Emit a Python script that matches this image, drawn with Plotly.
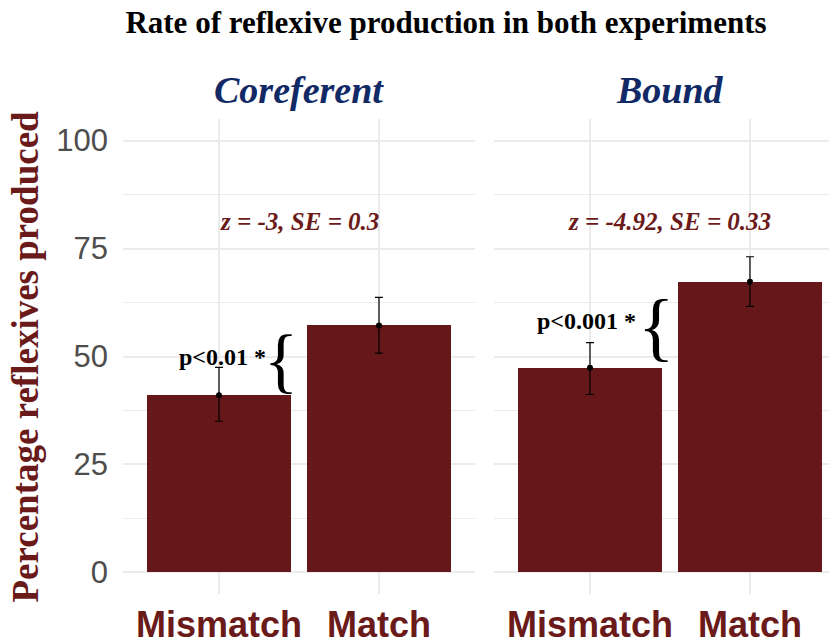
"""Reflexive production rate by condition, two experiments."""

import plotly.graph_objects as go

conditions = ["Mismatch", "Match"]
panels = ["Coreferent", "Bound"]

coref_rate = [41.0, 57.2]
coref_err_up = [6.5, 6.5]
coref_err_down = [6.0, 6.4]

bound_rate = [47.4, 67.3]
bound_err_up = [5.8, 5.8]
bound_err_down = [6.2, 5.7]

stat_labels = ["z = -3, SE = 0.3", "z = -4.92, SE = 0.33"]
p_labels = ["p<0.01 *", "p<0.001 *"]

BAR = "#661719"
RED_TEXT = "#6b1a1a"
NAVY = "#112a66"
GRID = "#ebebeb"
SERIF = "Liberation Serif"
SANS = "Liberation Sans"

x_pos = [1, 2]

fig = go.Figure()
series = [
    (coref_rate, coref_err_up, coref_err_down, "x", "y"),
    (bound_rate, bound_err_up, bound_err_down, "x2", "y2"),
]
for rate, up, down, xa, ya in series:
    fig.add_trace(
        go.Bar(
            x=x_pos,
            y=rate,
            width=0.9,
            marker={"color": BAR, "line": {"width": 0}},
            xaxis=xa,
            yaxis=ya,
            showlegend=False,
        )
    )
    fig.add_trace(
        go.Scatter(
            x=x_pos,
            y=rate,
            mode="markers",
            marker={"color": "black", "size": 6},
            error_y={
                "type": "data",
                "array": up,
                "arrayminus": down,
                "color": "black",
                "thickness": 1.2,
                "width": 4,
            },
            xaxis=xa,
            yaxis=ya,
            showlegend=False,
        )
    )

xaxis_common = dict(
    tickvals=x_pos,
    ticktext=conditions,
    showgrid=True,
    gridcolor=GRID,
    gridwidth=2,
    zeroline=False,
    showline=False,
    ticks="",
    automargin=False,
    tickfont={"family": SANS, "size": 36, "color": RED_TEXT, "weight": "bold"},
    ticklabelstandoff=6,
)
yaxis_common = dict(
    range=[-5, 105],
    tickvals=[0, 25, 50, 75, 100],
    showgrid=True,
    gridcolor=GRID,
    gridwidth=2,
    zeroline=False,
    showline=False,
    ticks="",
    automargin=False,
    minor={"tickvals": [12.5, 37.5, 62.5, 87.5], "showgrid": True,
           "gridcolor": GRID, "gridwidth": 1},
)

annotations = []
for i, (label, xa, ya) in enumerate([(panels[0], "x", "y"), (panels[1], "x2", "y2")]):
    annotations.append(dict(
        text=f"<b><i>{label}</i></b>", x=1.5, xref=xa, y=1, yref="paper",
        yanchor="bottom", yshift=6, showarrow=False,
        font={"family": SERIF, "size": 38, "color": NAVY},
    ))
    annotations.append(dict(
        text=f"<b><i>{stat_labels[i]}</i></b>", x=1.5, xref=xa, y=81.3, yref=ya,
        showarrow=False, font={"family": SERIF, "size": 25, "color": RED_TEXT},
    ))

annotations += [
    dict(text=f"<b>{p_labels[0]}</b>", x=1.02, xref="x", y=50, yref="y",
         showarrow=False, font={"family": SERIF, "size": 24, "color": "black"}),
    dict(text="{", x=1.39, xref="x", y=49.3, yref="y", showarrow=False,
         font={"family": SERIF, "size": 71, "color": "black"}),
    dict(text=f"<b>{p_labels[1]}</b>", x=0.98, xref="x2", y=58.3, yref="y2",
         showarrow=False, font={"family": SERIF, "size": 24, "color": "black"}),
    dict(text="{", x=1.41, xref="x2", y=57.0, yref="y2", showarrow=False,
         font={"family": SERIF, "size": 76, "color": "black"}),
    dict(text="<b>Percentage reflexives produced</b>", textangle=-90,
         x=0, xref="paper", xanchor="center", xshift=-98, y=0.5, yref="paper",
         showarrow=False, font={"family": SERIF, "size": 37, "color": RED_TEXT}),
]

# the page adds an 8px body margin, so the figure is laid out 8px up and left
fig.update_layout(
    width=837,
    height=641,
    margin={"l": 115, "r": 8, "t": 111, "b": 55},
    plot_bgcolor="white",
    paper_bgcolor="white",
    bargap=0,
    title={
        "text": "<b>Rate of reflexive production in both experiments</b>",
        "x": 438 / 837, "xanchor": "center", "y": 1 - 14 / 641, "yanchor": "middle",
        "font": {"family": SERIF, "size": 31, "color": "black"},
    },
    xaxis=dict(domain=[0, 352 / 714], range=[0.4, 2.6], **xaxis_common),
    xaxis2=dict(domain=[371 / 714, 1], range=[0.4, 2.544], **xaxis_common),
    yaxis=dict(anchor="x", tickfont={"family": SANS, "size": 31, "color": "#4d4d4d"},
               ticklabelstandoff=14, **yaxis_common),
    yaxis2=dict(anchor="x2", matches="y", showticklabels=False, **yaxis_common),
    annotations=annotations,
)

fig.write_html("out.html")
